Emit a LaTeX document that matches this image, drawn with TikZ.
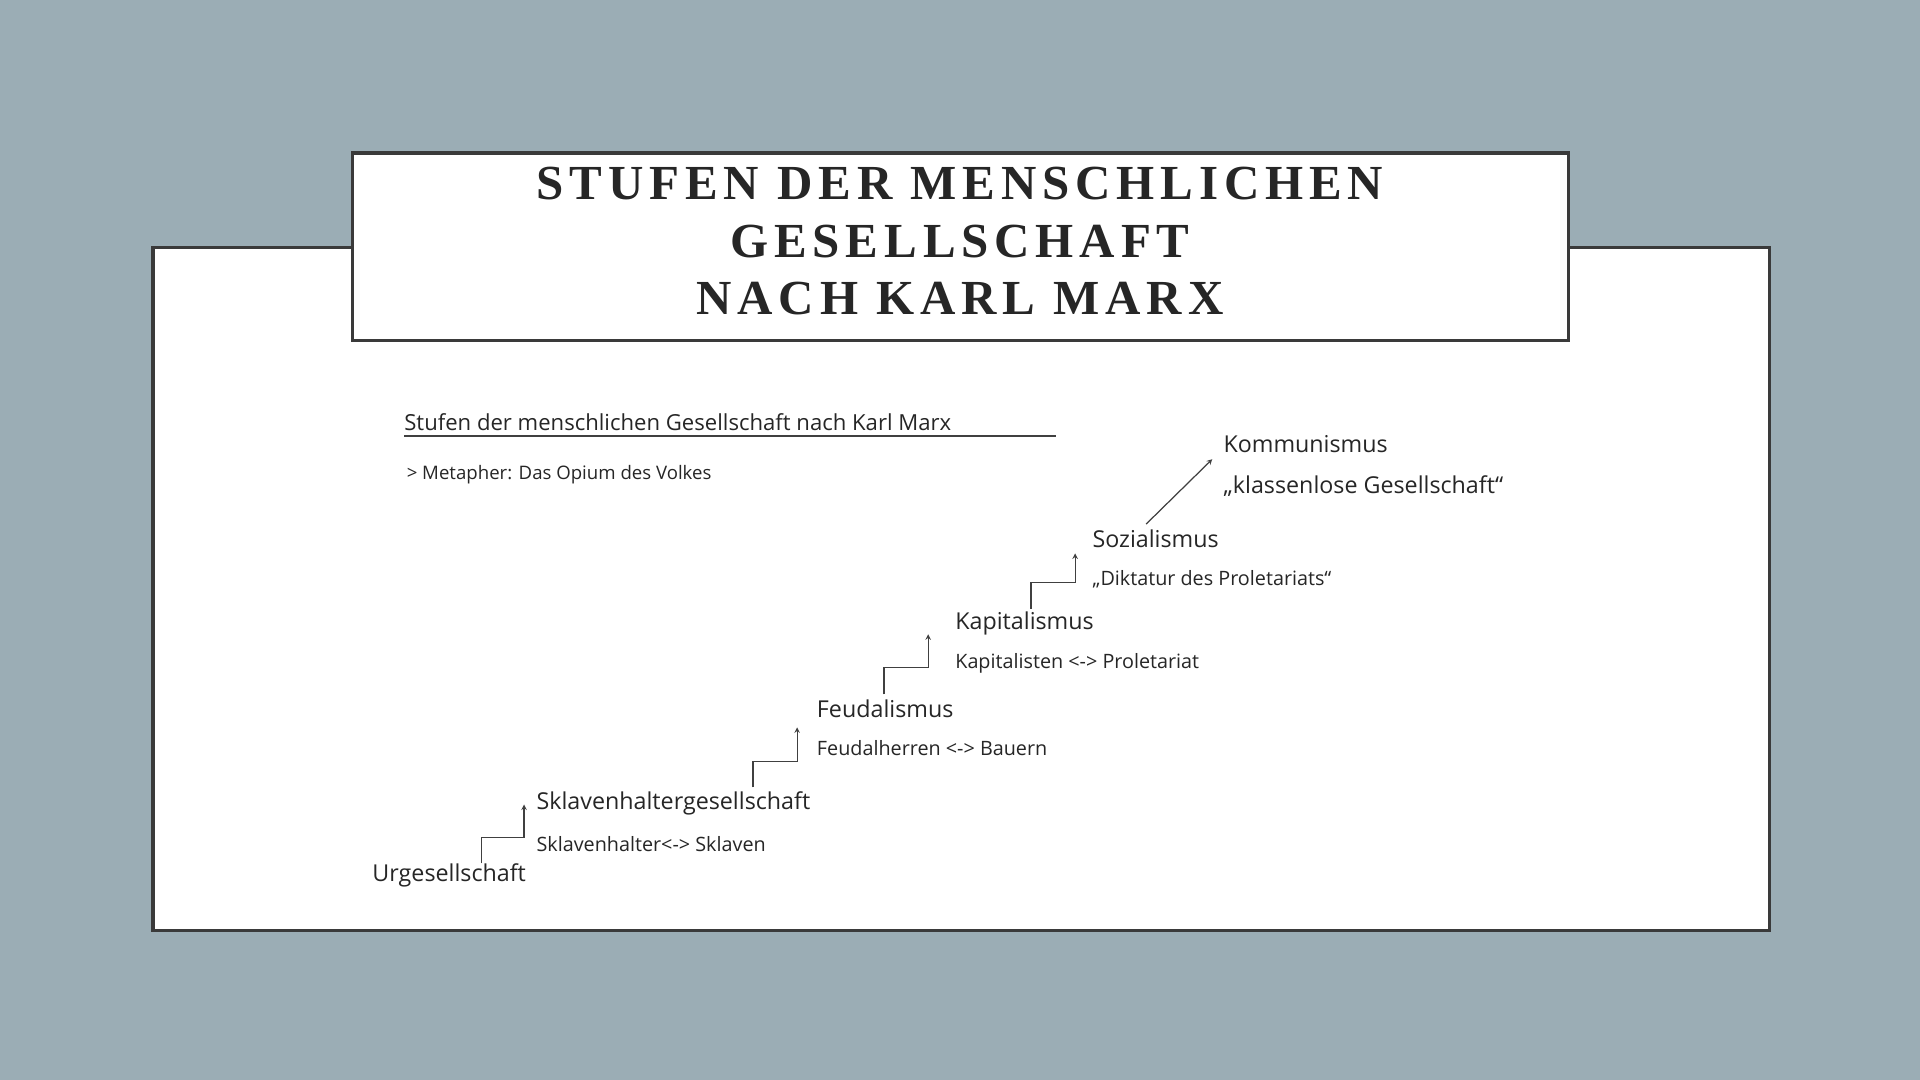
\documentclass[tikz,border=0pt]{standalone}
\usepackage{fontspec}
\setmainfont{Liberation Serif}
\newfontfamily\hand{Open Sans}[Scale=0.95]
\newfontfamily\titlef{Liberation Serif}[LetterSpace=12]
\begin{document}
\begin{tikzpicture}[x=1pt,y=-1pt,
  lab/.style={anchor=west,inner sep=0pt,font=\hand\fontsize{20}{22}\selectfont,text=black!85},
  sub/.style={anchor=west,inner sep=0pt,font=\hand\fontsize{17}{20}\selectfont,text=black!85},
  stepline/.style={draw=black!75,line width=1pt,-stealth}]
\definecolor{bg}{HTML}{9BADB5}
\definecolor{frame}{HTML}{3A3A3A}
\fill[bg] (0,0) rectangle (1568,882);
\useasboundingbox (0,0) rectangle (1568,882);
\draw[frame,fill=white,line width=3pt] (125,202) rectangle (1445,760);
\draw[frame,fill=white,line width=3pt] (288,125) rectangle (1281,278);
\node[align=center,font=\titlef\bfseries\fontsize{40}{47}\selectfont,text=black!85] (title) at (784,197)
 {STUFEN DER MENSCHLICHEN\\GESELLSCHAFT\\NACH KARL MARX};
\node[lab,font=\hand\fontsize{19}{22}\selectfont] (head) at (330,345) {Stufen der menschlichen Gesellschaft nach Karl Marx};
\draw[black!75,line width=1.2pt] (head.south west)++(0,4) -- ++(532,0);
\node[sub,font=\hand\fontsize{16}{20}\selectfont] (meta) at (332,388) {> Metapher: Das Opium des Volkes};
\node[lab] (kom) at (999,363) {Kommunismus};
\node[lab] (koms) at (999,397) {„klassenlose Gesellschaft“};
\node[lab] (soz) at (892,440) {Sozialismus};
\node[sub] (sozs) at (892,473) {„Diktatur des Proletariats“};
\node[lab] (kap) at (780,509) {Kapitalismus};
\node[sub] (kaps) at (780,542) {Kapitalisten <-> Proletariat};
\node[lab] (feu) at (667,579) {Feudalismus};
\node[sub] (feus) at (667,611) {Feudalherren <-> Bauern};
\node[lab] (skl) at (438,656) {Sklavenhaltergesellschaft};
\node[sub] (skls) at (438,689) {Sklavenhalter<-> Sklaven};
\node[lab] (urg) at (304,715) {Urgesellschaft};
\coordinate (a1) at (393,705); \coordinate (a2) at (428,657);
\coordinate (b1) at (615,643); \coordinate (b2) at (651,594);
\coordinate (c1) at (722,567); \coordinate (c2) at (758,518);
\coordinate (d1) at (842,497); \coordinate (d2) at (878,452);
\coordinate (e1) at (936,428); \coordinate (e2) at (990,375);
\draw[stepline] (a1) -- (393,684) -- (428,684) -- (a2);
\draw[stepline] (b1) -- (615,622) -- (651,622) -- (b2);
\draw[stepline] (c1) -- (722,545) -- (758,545) -- (c2);
\draw[stepline] (d1) -- (842,476) -- (878,476) -- (d2);
\draw[stepline] (e1) -- (e2);
\end{tikzpicture}
\end{document}
